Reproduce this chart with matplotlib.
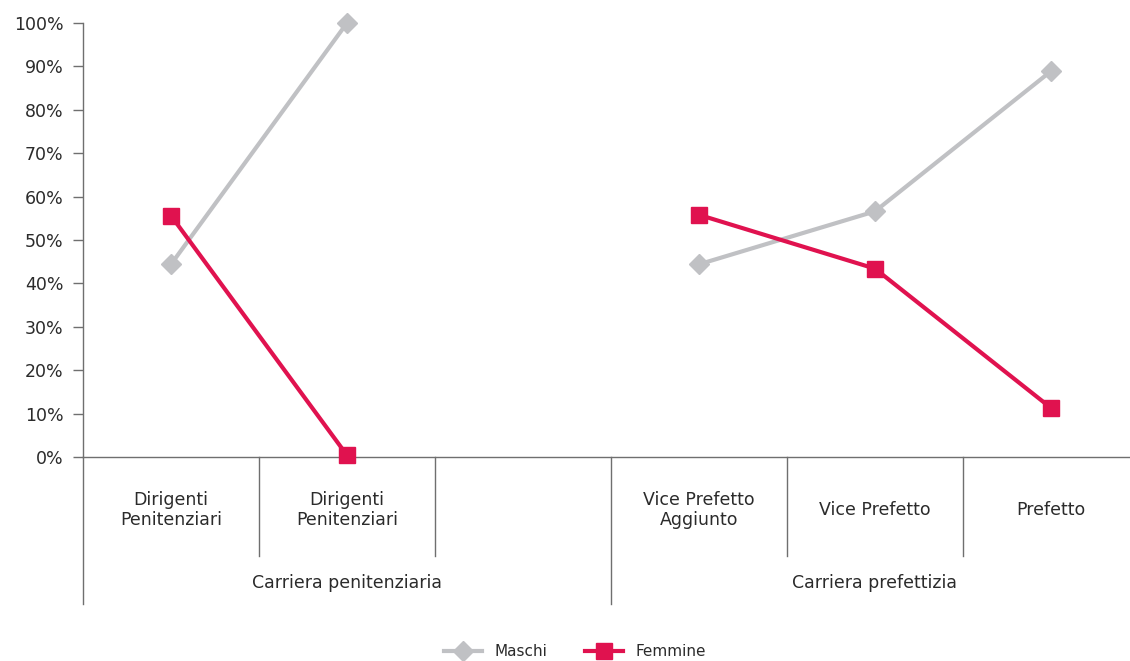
import numpy as np
import matplotlib
matplotlib.use("Agg")
import matplotlib.pyplot as plt
from matplotlib.lines import Line2D

# data
categories = ["Dirigenti\nPenitenziari", "Dirigenti\nPenitenziari", "",
              "Vice Prefetto\nAggiunto", "Vice Prefetto", "Prefetto"]
groups = ["Carriera penitenziaria", "Carriera prefettizia"]
group_spans = [(0, 2), (3, 5)]
maschi = [44.4, 100.0, np.nan, 44.4, 56.6, 88.9]
femmine = [55.6, 0.4, np.nan, 55.8, 43.4, 11.3]
yticks = list(range(0, 101, 10))

grey = "#c0c1c4"
red = "#e0124f"
axcol = "#6f6f6f"
txt = "#2b2b2b"

plt.rcParams['font.family'] = ['DejaVu Sans']

fig = plt.figure(figsize=(11.3, 6.61), dpi=100)
W, H = 1130.0, 661.0
ax = fig.add_axes([83 / W, 204 / H, 1056 / W, 434 / H])

x = np.arange(len(categories))
ax.plot(x, maschi, color=grey, lw=3, marker="D", ms=10, mfc=grey, mec=grey,
        label="Maschi", zorder=3, clip_on=False)
ax.plot(x, femmine, color=red, lw=3, marker="s", ms=11, mfc=red, mec=red,
        label="Femmine", zorder=4, clip_on=False)

ax.set_xlim(-0.5, len(categories) - 0.5)
ax.set_ylim(0, 100)
ax.set_yticks(yticks)
ax.set_yticklabels([f"{t}%" for t in yticks], fontsize=12.5, color=txt)
ax.tick_params(axis="y", length=7, width=1, color=axcol, pad=7)
ax.set_xticks([])

for s in ["top", "right"]:
    ax.spines[s].set_visible(False)
ax.spines["left"].set_color(axcol)
ax.spines["bottom"].set_color(axcol)
ax.spines["left"].set_linewidth(1)
ax.spines["bottom"].set_linewidth(1)

tr = ax.get_xaxis_transform()
# category separators and labels
for i, lab in enumerate(categories):
    if i > 0 and i not in (3,):
        ax.plot([i - 0.5, i - 0.5], [0, -0.228], color=axcol, lw=1,
                transform=tr, clip_on=False)
    if lab:
        ax.text(i, -0.122, lab, transform=tr, ha="center", va="center",
                fontsize=12.5, color=txt, linespacing=1.2)
# group separators and labels
for (a, b), g in zip(group_spans, groups):
    ax.plot([a - 0.5, a - 0.5], [0, -0.339], color=axcol, lw=1,
            transform=tr, clip_on=False)
    ax.text((a + b) / 2, -0.29, g, transform=tr, ha="center", va="center",
            fontsize=12.5, color=txt)

handles = [Line2D([], [], color=grey, lw=3, marker="D", ms=10),
           Line2D([], [], color=red, lw=3, marker="s", ms=11)]
fig.legend(handles, ["Maschi", "Femmine"], loc="center", ncol=2,
           bbox_to_anchor=(575 / W, 1 - 652 / H), frameon=False,
           fontsize=11, handlelength=2.5, columnspacing=2.5,
           labelcolor=txt)

fig.savefig("out.png", dpi=100)
